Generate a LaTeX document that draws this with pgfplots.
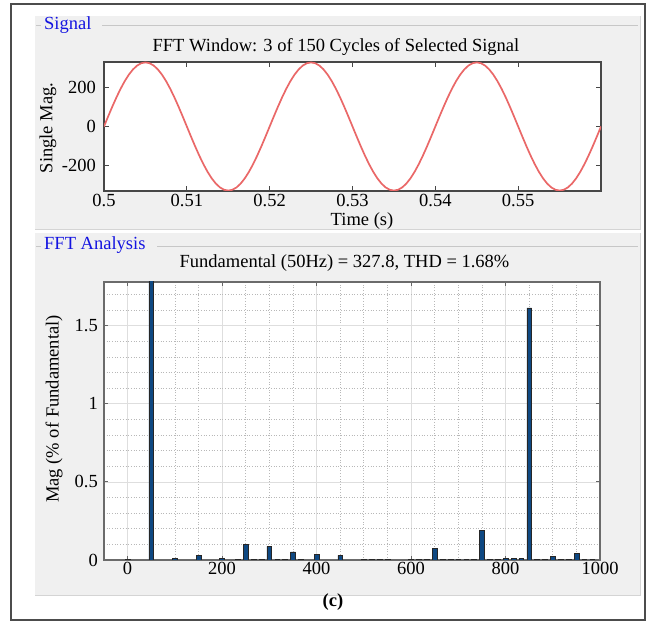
\documentclass[border=0pt]{standalone}
\usepackage{pgfplots}
\pgfplotsset{compat=1.18}
\usepackage{fontspec}
\setmainfont{Liberation Serif}
\definecolor{panelgray}{RGB}{240,240,240}
\definecolor{panelline}{RGB}{212,212,212}
\definecolor{sigblue}{RGB}{20,20,225}
\definecolor{sigred}{RGB}{234,104,104}
\definecolor{barblue}{RGB}{14,72,130}
\newcommand\ff{\fontsize{18.5bp}{22bp}\selectfont}
\begin{document}
\begin{tikzpicture}[x=1bp,y=1bp]
\path[use as bounding box] (0,0) rectangle (649,621);
\fill[white] (0,0) rectangle (649,621);
% outer frame
\draw[black!70, line width=1.2bp] (11,1) rectangle (645,617);
% panels
\fill[panelgray] (35,392) rectangle (640,605);
\draw[panelline, line width=0.8bp] (35,392) -- (640,392) -- (640,605);
\fill[panelgray] (35,26) rectangle (640,388);
\draw[panelline, line width=0.8bp] (35,26) -- (640,26) -- (640,388);
% group box lines
\draw[black!22, line width=0.9bp] (36,596) -- (41,596);
\draw[black!22, line width=0.9bp] (102,596) -- (638,596);
\draw[black!22, line width=0.9bp] (36,375) -- (41,375);
\draw[black!22, line width=0.9bp] (157,375) -- (638,375);
% panel labels
\node[anchor=base west, text=sigblue, font=\ff, inner sep=0] at (44,591.5) {Signal};
\node[anchor=base west, text=sigblue, font=\ff, inner sep=0] at (44,371) {FFT Analysis};
% titles
\node[anchor=base, font=\ff, inner sep=0] at (336,569.5) {FFT Window: 3 of 150 Cycles of Selected Signal};
\node[anchor=base, font=\ff, inner sep=0] at (344.5,353) {Fundamental (50Hz) = 327.8, THD = 1.68\%};
% axis labels
\node[anchor=base, font=\ff, inner sep=0] at (362,395.5) {Time (s)};
\node[rotate=90, font=\ff, inner sep=0] at (48,493) {Single Mag.};
\node[rotate=90, font=\ff, inner sep=0] at (54,212) {Mag (\% of Fundamental)};
\node[anchor=base, font=\ff\bfseries, inner sep=0] at (333,14) {(c)};

% ---------- Signal axis ----------
\begin{axis}[
  at={(104bp,430bp)}, anchor=south west,
  width=497bp, height=129bp, scale only axis,
  xmin=0.5, xmax=0.56, ymin=-330, ymax=330,
  xtick={0.5,0.51,0.52,0.53,0.54,0.55},
  xticklabels={0.5,0.51,0.52,0.53,0.54,0.55},
  ytick={-200,0,200},
  yticklabels={-200,0,200},
  tick align=inside, major tick length=5bp,
  axis background/.style={fill=white},
  axis line style={draw=black!72, line width=1.6bp},
  tick style={black!72, line width=0.9bp},
  /pgf/number format/assume math mode=true,
  xticklabel style={font=\ff, anchor=north, inner sep=0pt, yshift=-3.5bp},
  yticklabel style={font=\ff, anchor=east, inner sep=0pt, xshift=-8bp},
]
\addplot[sigred, line width=1.7bp, line join=round] coordinates {
(0.5000,0) (0.5005,51.28) (0.5010,101.30) (0.5015,148.82) (0.5020,192.68) (0.5025,231.79) (0.5030,265.20) (0.5035,292.07) (0.5040,311.76) (0.5045,323.76) (0.5050,327.80) (0.5055,323.76) (0.5060,311.76) (0.5065,292.07) (0.5070,265.20) (0.5075,231.79) (0.5080,192.68) (0.5085,148.82) (0.5090,101.30) (0.5095,51.28)
(0.5100,0) (0.5105,-51.28) (0.5110,-101.30) (0.5115,-148.82) (0.5120,-192.68) (0.5125,-231.79) (0.5130,-265.20) (0.5135,-292.07) (0.5140,-311.76) (0.5145,-323.76) (0.5150,-327.80) (0.5155,-323.76) (0.5160,-311.76) (0.5165,-292.07) (0.5170,-265.20) (0.5175,-231.79) (0.5180,-192.68) (0.5185,-148.82) (0.5190,-101.30) (0.5195,-51.28)
(0.5200,0) (0.5205,51.28) (0.5210,101.30) (0.5215,148.82) (0.5220,192.68) (0.5225,231.79) (0.5230,265.20) (0.5235,292.07) (0.5240,311.76) (0.5245,323.76) (0.5250,327.80) (0.5255,323.76) (0.5260,311.76) (0.5265,292.07) (0.5270,265.20) (0.5275,231.79) (0.5280,192.68) (0.5285,148.82) (0.5290,101.30) (0.5295,51.28)
(0.5300,0) (0.5305,-51.28) (0.5310,-101.30) (0.5315,-148.82) (0.5320,-192.68) (0.5325,-231.79) (0.5330,-265.20) (0.5335,-292.07) (0.5340,-311.76) (0.5345,-323.76) (0.5350,-327.80) (0.5355,-323.76) (0.5360,-311.76) (0.5365,-292.07) (0.5370,-265.20) (0.5375,-231.79) (0.5380,-192.68) (0.5385,-148.82) (0.5390,-101.30) (0.5395,-51.28)
(0.5400,0) (0.5405,51.28) (0.5410,101.30) (0.5415,148.82) (0.5420,192.68) (0.5425,231.79) (0.5430,265.20) (0.5435,292.07) (0.5440,311.76) (0.5445,323.76) (0.5450,327.80) (0.5455,323.76) (0.5460,311.76) (0.5465,292.07) (0.5470,265.20) (0.5475,231.79) (0.5480,192.68) (0.5485,148.82) (0.5490,101.30) (0.5495,51.28)
(0.5500,0) (0.5505,-51.28) (0.5510,-101.30) (0.5515,-148.82) (0.5520,-192.68) (0.5525,-231.79) (0.5530,-265.20) (0.5535,-292.07) (0.5540,-311.76) (0.5545,-323.76) (0.5550,-327.80) (0.5555,-323.76) (0.5560,-311.76) (0.5565,-292.07) (0.5570,-265.20) (0.5575,-231.79) (0.5580,-192.68) (0.5585,-148.82) (0.5590,-101.30) (0.5595,-51.28)
(0.5600,0)
};
\end{axis}

% ---------- FFT axis ----------
\begin{axis}[
  at={(104bp,61bp)}, anchor=south west,
  width=496bp, height=278bp, scale only axis,
  xmin=-50, xmax=1000, ymin=0, ymax=1.78,
  xtick={0,200,400,600,800,1000},
  xticklabels={0,200,400,600,800,1000},
  ytick={0,0.5,1,1.5},
  yticklabels={0,0.5,1,1.5},
  minor xtick={-50,50,100,150,250,300,350,450,500,550,650,700,750,850,900,950},
  minor ytick={0.1,0.2,0.3,0.4,0.6,0.7,0.8,0.9,1.1,1.2,1.3,1.4,1.6,1.7},
  grid=both,
  major grid style={black!13, line width=0.8bp},
  minor grid style={black!28, line width=0.7bp, dotted},
  minor tick length=0pt,
  tick align=inside, major tick length=4bp,
  axis background/.style={fill=white},
  axis line style={draw=black!58, line width=1.3bp},
  tick style={black!60, line width=0.9bp},
  /pgf/number format/assume math mode=true,
  xticklabel style={font=\ff, anchor=north, inner sep=0pt, yshift=-1.5bp},
  yticklabel style={font=\ff, anchor=east, inner sep=0pt, xshift=-6bp},
]
\addplot[ybar, bar width=10, fill=barblue, draw=black!85, line width=0.5bp] coordinates {
(0,0.003) (50,100) (100,0.012) (150,0.032) (200,0.012) (233.3,0.006)
(250,0.100) (266.7,0.006) (283.3,0.006) (300,0.088) (316.7,0.006) (333.3,0.006)
(350,0.052) (366.7,0.006) (400,0.035) (450,0.030)
(500,0.005) (516.7,0.005) (533.3,0.005) (550,0.005)
(600,0.006) (616.7,0.005) (633.3,0.005) (650,0.075) (666.7,0.005) (683.3,0.005)
(700,0.005) (716.7,0.005) (733.3,0.005) (750,0.188) (766.7,0.005) (783.3,0.005)
(800,0.009) (816.7,0.011) (833.3,0.008) (850,1.615) (866.7,0.005) (883.3,0.005)
(900,0.022) (916.7,0.005) (933.3,0.005) (950,0.043) (966.7,0.005) (983.3,0.005)
};
\end{axis}
\end{tikzpicture}
\end{document}
